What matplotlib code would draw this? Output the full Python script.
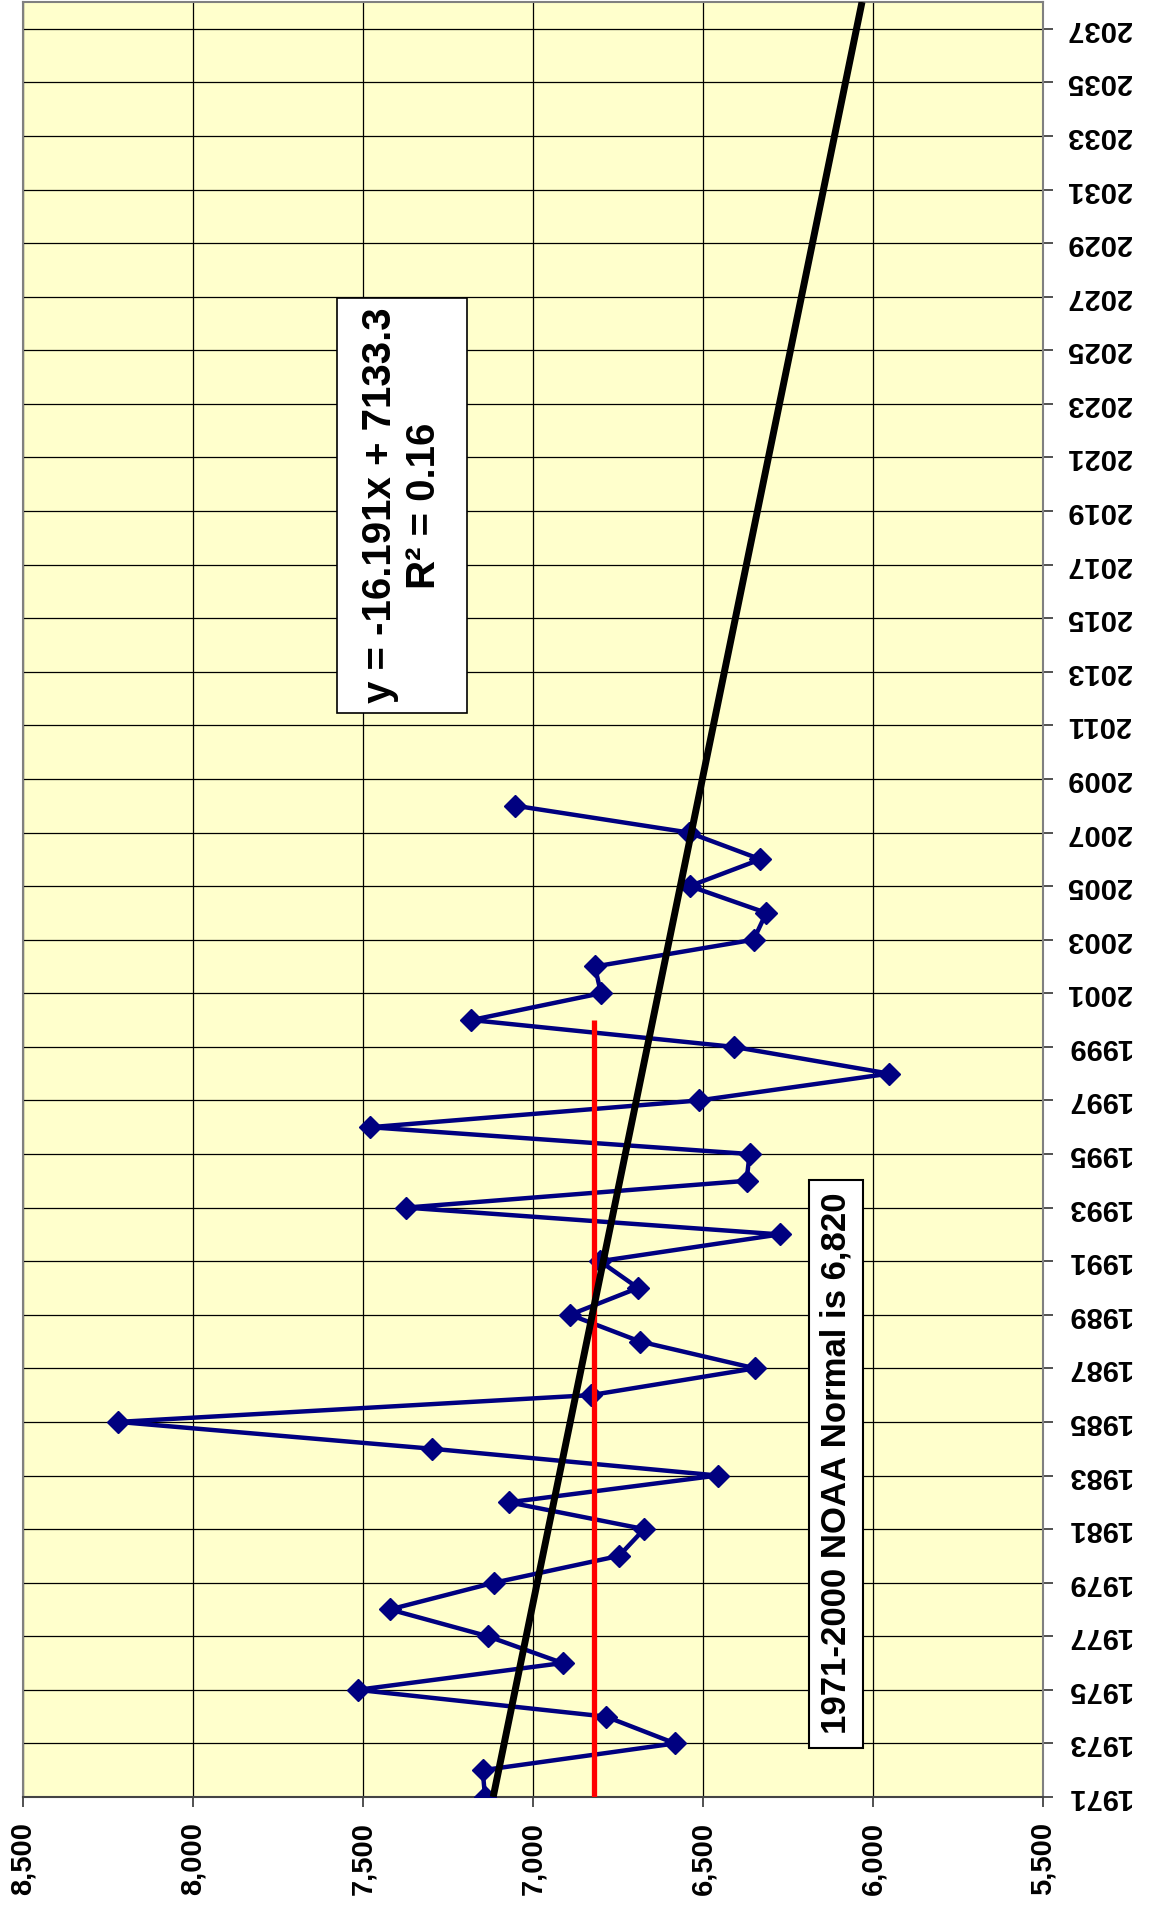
import numpy as np
import matplotlib
matplotlib.use('Agg')
import matplotlib.pyplot as plt
from matplotlib.patches import Rectangle

plt.rcParams['font.family'] = ['Liberation Sans', 'DejaVu Sans']
plt.rcParams['font.weight'] = 'bold'

# heating degree days per year
years = list(range(1971, 2009))
hdd = [7141, 7148, 6582, 6785, 7516, 6913, 7133, 7421, 7114, 6747,
       6673, 7071, 6457, 7298, 8220, 6830, 6347, 6685, 6891, 6691,
       6803, 6274, 7374, 6372, 6363, 7479, 6512, 5952, 6410, 7181,
       6800, 6818, 6351, 6314, 6539, 6331, 6542, 7052]

# linear trend as printed on the chart (x = 1 for 1971)
trend_slope = -16.191
trend_intercept = 7133.3
trend_years = [1971, 2038]

# 1971-2000 NOAA normal
normal_years = [1971, 2000]
normal_value = 6820

value_ticks = [5500, 6000, 6500, 7000, 7500, 8000, 8500]
year_ticks = list(range(1971, 2038, 2))

eq_text = "y = -16.191x + 7133.3\nR\u00b2 = 0.16"
normal_text = "1971-2000 NOAA Normal is 6,820"

W, H = 1155, 1913
fig = plt.figure(figsize=(W / 100, H / 100), dpi=100)
fig.patch.set_facecolor('white')
ax = fig.add_axes([23 / W, 1 - 1797 / H, 1020 / W, 1795 / H])
ax.set_facecolor('#FFFFCC')

# the chart is turned on its side: years go up, values run right-to-left
ax.plot(hdd, years, color='#000080', lw=3.2, marker='D', ms=11,
        mec='#000080', mfc='#000080', zorder=3)

ax.plot([normal_value, normal_value], normal_years, color='#FF0000', lw=3.8,
        solid_capstyle='butt', zorder=4)

ty = np.array(trend_years)
ax.plot(trend_intercept + trend_slope * (ty - 1970), ty, color='black', lw=5,
        solid_capstyle='butt', zorder=5)

ax.set_xlim(8500, 5500)
ax.set_ylim(1971, 2038)

ax.set_xticks(value_ticks)
ax.set_xticklabels(['{:,}'.format(v) for v in value_ticks], rotation=90,
                   fontsize=21, fontweight='bold')
ax.yaxis.tick_right()
ax.set_yticks(year_ticks)
ax.set_yticklabels([str(y) for y in year_ticks], rotation=180,
                   fontsize=21, fontweight='bold')
for lab in ax.get_yticklabels():
    lab.set_va('center')
ax.tick_params(axis='x', direction='out', length=7, width=1.2, pad=11, color='#333333')
ax.tick_params(axis='y', direction='out', length=7, width=1.2, pad=10, color='#333333')

ax.grid(True, color='black', lw=0.9)
ax.set_axisbelow(True)
for s in ax.spines.values():
    s.set_color('#808080')
    s.set_linewidth(1.5)
ax.spines['bottom'].set_color('#444444')

# equation box
ax.add_patch(Rectangle((0.308, 0.604), 0.127, 0.231, transform=ax.transAxes,
                       facecolor='white', edgecolor='black', lw=1.2, zorder=6))
ax.text(0.3715, 0.7195, eq_text, transform=ax.transAxes, rotation=90,
        ha='center', va='center', multialignment='center', fontsize=29,
        fontweight='bold', linespacing=1.2, zorder=7)

# normal box
ax.add_patch(Rectangle((0.7706, 0.0275), 0.053, 0.3165, transform=ax.transAxes,
                       facecolor='white', edgecolor='black', lw=1.5, zorder=6))
ax.text(0.797, 0.1857, normal_text, transform=ax.transAxes, rotation=90,
        ha='center', va='center', fontsize=25, fontweight='bold', zorder=7)

fig.savefig('out.png', dpi=100)
